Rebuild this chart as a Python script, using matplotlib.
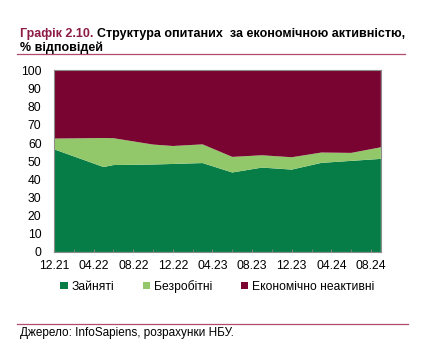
import datetime as dt

import matplotlib
matplotlib.use("Agg")
import matplotlib.pyplot as plt
from matplotlib.lines import Line2D
from matplotlib.patches import Patch
from matplotlib.ticker import FixedLocator, NullFormatter

# survey waves (month of survey) and shares, % of respondents
waves = ["2021-12", "2022-05", "2022-06", "2022-10", "2022-12", "2023-03",
         "2023-06", "2023-09", "2023-12", "2024-03", "2024-06", "2024-09"]
employed = [56.6, 46.8, 47.9, 48.2, 48.5, 49.0, 43.8, 46.5, 45.4, 49.1, 50.2, 51.3]
unemployed = [5.9, 16.0, 14.8, 11.0, 9.9, 10.3, 8.6, 6.8, 6.8, 5.7, 4.4, 6.4]
inactive = [round(100 - e - u, 1) for e, u in zip(employed, unemployed)]

tick_labels = ["12.21", "04.22", "08.22", "12.22", "04.23",
               "08.23", "12.23", "04.24", "08.24"]

labels = ["Зайняті", "Безробітні", "Економічно неактивні"]
colors = ["#067d47", "#93c86a", "#7a0431"]
MAROON = "#8c1b45"

plt.rcParams["font.family"] = ["Liberation Sans", "DejaVu Sans"]


def month_index(s):
    d = dt.datetime.strptime(s, "%Y-%m")
    return (d.year - 2021) * 12 + d.month - 12


x = [month_index(w) for w in waves]

fig = plt.figure(figsize=(4.37, 3.49), dpi=100)
ax = fig.add_axes([0.1236, 0.278, 0.748, 0.520])

ax.stackplot(x, employed, unemployed, inactive, colors=colors, linewidth=0)

ax.set_xlim(x[0], x[-1])
ax.set_ylim(0, 100)
ax.set_yticks(range(0, 101, 10))
ax.set_xticks(range(0, 33, 4))
ax.set_xticklabels(tick_labels)
ax.xaxis.set_minor_locator(FixedLocator(range(0, 34, 2)))
ax.xaxis.set_minor_formatter(NullFormatter())
ax.tick_params(axis="x", which="both", direction="in", length=2,
               color="#808080", labelsize=8.7, pad=6)
ax.tick_params(axis="y", length=0, labelsize=8.7, pad=9)
for s in ax.spines.values():
    s.set_color("#8c8c8c")
    s.set_linewidth(0.8)

# legend
handles = [Patch(facecolor=c, edgecolor="none") for c in colors]
fig.legend(handles, labels, loc="center", bbox_to_anchor=(0.497, 0.18),
           ncol=3, frameon=False, fontsize=8.7, handlelength=0.6,
           handleheight=0.6, handletextpad=0.3, columnspacing=2.4,
           borderpad=0)

# title, first part in maroon
fig.canvas.draw()
r = fig.canvas.get_renderer()
t1 = fig.text(0.046, 0.895, "Графік 2.10.", color=MAROON, fontsize=9,
              fontweight="bold", va="baseline")
bb = t1.get_window_extent(r)
fig.text(bb.x1 / fig.bbox.width + 0.008, 0.895,
         "Структура опитаних  за економічною активністю,",
         color="black", fontsize=9, fontweight="bold", va="baseline")
fig.text(0.046, 0.855, "% відповідей", color="black", fontsize=9,
         fontweight="bold", va="baseline")

fig.add_artist(Line2D([0.040, 0.927], [0.845, 0.845], color="#b24a6c",
                      linewidth=0.9))
fig.add_artist(Line2D([0.040, 0.933], [0.072, 0.072], color="#b24a6c",
                      linewidth=0.9))
fig.text(0.046, 0.037, "Джерело: InfoSapiens, розрахунки НБУ.",
         fontsize=8.5, va="baseline")

fig.savefig("out.png", dpi=100)
